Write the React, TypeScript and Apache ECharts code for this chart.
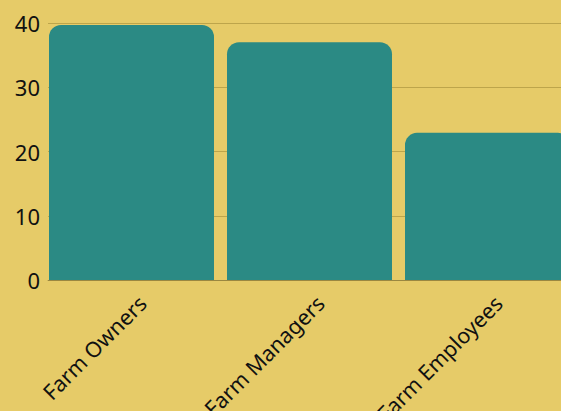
import React, { useEffect, useRef } from "react";
import * as echarts from "echarts";

const categories = ["Farm Owners", "Farm Managers", "Farm Employees"];
const values = [39.7, 37.0, 22.9];
const spacer = [null, null, null];
const yTicks = { min: 0, max: 40, interval: 10 };

export default function App() {
  const ref = useRef<HTMLDivElement>(null);
  useEffect(() => {
    document.body.style.margin = "0";
    const chart = echarts.init(ref.current!, null, { renderer: "svg" });
    chart.setOption({
      animation: false,
      backgroundColor: "#E6CB68",
      textStyle: { fontFamily: "Noto Sans" },
      grid: {
        left: 48,
        top: 23,
        width: 534,
        height: 257,
        containLabel: false,
        outerBoundsMode: "none",
      },
      xAxis: {
        type: "category",
        data: categories,
        axisLine: { show: true, lineStyle: { color: "rgba(110,100,50,0.45)", width: 1 } },
        axisTick: { show: false },
        axisLabel: {
          rotate: 45,
          fontSize: 21.5,
          color: "#111",
          margin: 14,
          verticalAlign: "top",
          lineHeight: 15,
          interval: 0,
        },
        z: 10,
      },
      yAxis: {
        type: "value",
        min: yTicks.min,
        max: yTicks.max,
        interval: yTicks.interval,
        axisLine: { show: false },
        axisTick: { show: false },
        axisLabel: { fontSize: 22, color: "#111", margin: 8 },
        splitLine: { lineStyle: { color: "rgba(140,120,40,0.45)", width: 1 } },
      },
      series: [
        {
          type: "bar",
          data: values,
          barWidth: 165,
          barGap: "0%",
          itemStyle: { color: "#2B8A84", borderRadius: [12, 12, 0, 0] },
        },
        {
          type: "bar",
          data: spacer,
          barWidth: 11,
          itemStyle: { color: "transparent" },
        },
      ],
    });
    return () => chart.dispose();
  }, []);
  return (
    <div
      ref={ref}
      style={{ position: "absolute", left: 0, top: 0, width: 561, height: 411 }}
    />
  );
}
